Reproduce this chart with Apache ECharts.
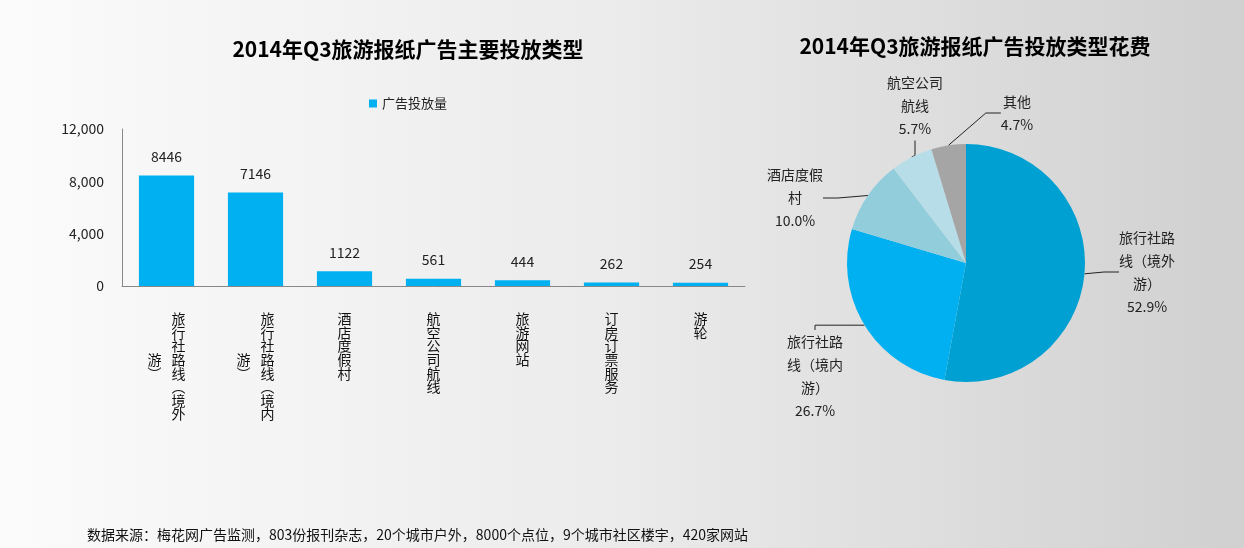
<!DOCTYPE html>
<html>
<head>
<meta charset="utf-8">
<script src="https://cdn.jsdelivr.net/npm/echarts@6/dist/echarts.min.js"></script>
<style>
html,body{margin:0;padding:0;width:1244px;height:548px;overflow:hidden;}
#c{width:1244px;height:548px;}
</style>
</head>
<body>
<div id="c"></div>
<script>
// ---- data ----
var barTitle = '2014年Q3旅游报纸广告主要投放类型';
var pieTitle = '2014年Q3旅游报纸广告投放类型花费';
var footnote = '数据来源：梅花网广告监测，803份报刊杂志，20个城市户外，8000个点位，9个城市社区楼宇，420家网站';
var seriesName = '广告投放量';
var barCategories = ['旅行社路线（境外游）', '旅行社路线（境内游）', '酒店度假村', '航空公司航线', '旅游网站', '订房订票服务', '游轮'];
var barValues = [8446, 7146, 1122, 561, 444, 262, 254];
var yTicks = [0, 4000, 8000, 12000];
var pieNames = ['旅行社路线（境外游）', '旅行社路线（境内游）', '酒店度假村', '航空公司航线', '其他'];
var piePercents = [52.9, 26.7, 10.0, 5.7, 4.7];
var pieColors = ['#00A0D2', '#00B0F0', '#92CDDC', '#B7DEE8', '#A5A5A5'];

// ---- layout (not data) ----
var FONT = '"Microsoft YaHei", "Noto Sans CJK SC", sans-serif';
var PIE_CX = 966, PIE_CY = 263, PIE_R = 119;
// label centre offsets from the pie centre, per slice
var pieLabelOffsets = [[181, 9], [-151, 113], [-171, -65], [-51, -157], [51, -150]];

function verticalLabel(name) {
  var s = name.replace(/（/g, '︵').replace(/）/g, '︶');
  var chars = Array.from(s);
  if (chars.length <= 8) return chars.map(function (c) { return '{c|' + c + '}'; }).join('\n');
  var right = chars.slice(0, 8), left = chars.slice(8);
  var startRow = Math.floor((8 - left.length) / 2);
  var lines = [];
  for (var i = 0; i < 8; i++) {
    var l = (i >= startRow && i < startRow + left.length) ? left[i - startRow] : '　';
    lines.push('{c|' + l + '}{g|}{c|' + right[i] + '}');
  }
  return lines.join('\n');
}
function wrap4(name) {
  var chars = Array.from(name), out = [];
  for (var i = 0; i < chars.length; i += 4) out.push(chars.slice(i, i + 4).join(''));
  return out.join('\n');
}
function commas(v) { return String(v).replace(/\B(?=(\d{3})+(?!\d))/g, ','); }

var chart = echarts.init(document.getElementById('c'));
chart.setOption({
  backgroundColor: {
    type: 'linear', x: 0, y: 0, x2: 1, y2: 0,
    colorStops: [{ offset: 0, color: '#fbfbfb' }, { offset: 0.5, color: '#ebebeb' }, { offset: 1, color: '#d0d0d0' }]
  },
  textStyle: { fontFamily: FONT },
  title: [
    { text: barTitle, left: 403, top: 34, textAlign: 'center',
      textStyle: { fontSize: 21, fontWeight: 'bold', color: '#000', fontFamily: FONT } },
    { text: pieTitle, left: 970, top: 31, textAlign: 'center',
      textStyle: { fontSize: 21, fontWeight: 'bold', color: '#000', fontFamily: FONT } },
    { text: footnote, left: 82, top: 523,
      textStyle: { fontSize: 14, fontWeight: 'normal', color: '#111', fontFamily: FONT } }
  ],
  legend: {
    data: [seriesName], left: 364, top: 92, icon: 'rect', itemWidth: 8, itemHeight: 8, itemGap: 5,
    textStyle: { fontSize: 13, color: '#222', fontFamily: FONT }
  },
  grid: { left: 122, right: 499, top: 129, bottom: 262 },
  xAxis: {
    type: 'category', data: barCategories,
    axisLine: { lineStyle: { color: '#888' } },
    axisTick: { show: false },
    axisLabel: {
      interval: 0, margin: 26, color: '#111', verticalAlign: 'top',
      formatter: verticalLabel,
      rich: {
        c: { fontSize: 14, lineHeight: 13.6, width: 14, align: 'center', color: '#111', fontFamily: '"Noto Sans CJK SC", sans-serif' },
        g: { width: 10 }
      }
    }
  },
  yAxis: {
    type: 'value', min: 0, max: 12000, interval: 4000,
    axisLine: { show: true, lineStyle: { color: '#888' } },
    axisTick: { show: false },
    splitLine: { show: false },
    axisLabel: { fontSize: 14, color: '#222', margin: 18, formatter: function (v) { return yTicks.indexOf(v) >= 0 ? commas(v) : ''; } }
  },
  series: [
    {
      name: seriesName, type: 'bar', data: barValues, barWidth: '62%',
      itemStyle: { color: '#00B0F0' },
      label: { show: true, position: 'top', distance: 12, fontSize: 14, color: '#222', fontFamily: FONT }
    },
    {
      type: 'pie', center: [PIE_CX, PIE_CY], radius: PIE_R, startAngle: 90, clockwise: true,
      data: pieNames.map(function (n, i) { return { name: n, value: piePercents[i], itemStyle: { color: pieColors[i] } }; }),
      label: {
        formatter: function (p) { return wrap4(p.name) + '\n' + p.value.toFixed(1) + '%'; },
        fontSize: 14, lineHeight: 23, color: '#222', fontFamily: FONT, align: 'center'
      },
      labelLine: { length: 15, length2: 15, lineStyle: { color: '#222', width: 1 } },
      labelLayout: function (p) {
        var o = pieLabelOffsets[p.dataIndex];
        return { x: PIE_CX + o[0], y: PIE_CY + o[1], align: 'center', verticalAlign: 'middle' };
      },
      emphasis: { disabled: true }
    }
  ]
});
</script>
</body>
</html>
